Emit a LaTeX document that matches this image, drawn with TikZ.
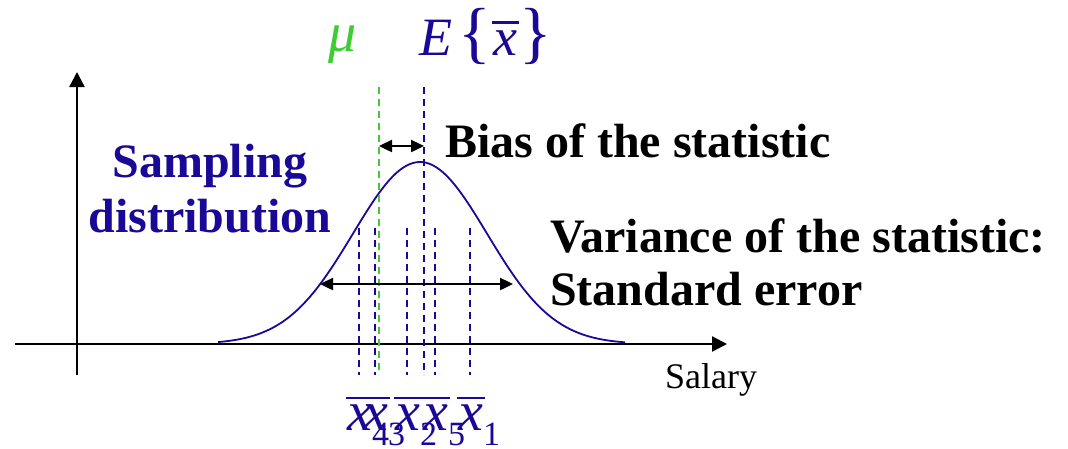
\documentclass[tikz,border=0pt]{standalone}
\usepackage{fontspec}
\setmainfont{Liberation Serif}
\usetikzlibrary{arrows.meta,positioning,calc}
\definecolor{sb}{RGB}{26,8,150}
\definecolor{sg}{RGB}{60,205,50}
\tikzset{axis/.style={line width=2.4pt,-{Triangle[length=15pt,width=15pt]}},
 curve/.style={draw=sb,line width=1.8pt},
 dl/.style={line width=1.8pt,dash pattern=on 7pt off 5pt},
 dbl/.style={line width=2.4pt,{Triangle[length=13pt,width=12pt]}-{Triangle[length=13pt,width=12pt]}},
 lbl/.style={inner sep=0pt,anchor=base west,font=\bfseries\fontsize{48}{54}\selectfont},
 mth/.style={inner sep=0pt,anchor=base west,font=\itshape\fontsize{56}{60}\selectfont},
 every node/.style={inner sep=0pt}}
\newcommand{\xb}[1]{\vbox{\hrule height 2.8pt\kern #1\hbox{\kern1.5pt x\kern1.5pt}}}
\newcommand{\brc}[1]{{\upshape\fontsize{68}{68}\selectfont #1}}
\begin{document}
\begin{tikzpicture}[x=1pt,y=-1pt]
\useasboundingbox (0,0) rectangle (1068,448);
% axes
\coordinate (ybot) at (77,375);\coordinate (ytop) at (77,72);
\coordinate (xl) at (15,344);\coordinate (xr) at (727,344);
\draw[axis] (ybot)--(ytop);\draw[axis] (xl)--(xr);
\node[anchor=base west,font=\fontsize{36}{40}\selectfont] (sal) at (665,388) {Salary};
% sampling distribution
\draw[curve] plot[domain=218:625,samples=120] (\x,{344-182*exp(-0.5*((\x-420)/67)^2)});
\node[lbl,anchor=base,text=sb] (samp) at (210,177) {Sampling};
\node[lbl,anchor=base,text=sb] (distr) at (210,232) {distribution};
% mean and expectation
\coordinate (mut) at (379,87);\coordinate (mub) at (379,375);
\coordinate (et) at (424,87);\coordinate (eb) at (424,375);
\draw[dl,draw=sg] (mut)--(mub);\draw[dl,draw=sb] (et)--(eb);
\node[mth,text=sg] (mu) at (328,51) {μ};
\node[mth,text=sb,font=\itshape\fontsize{54}{60}\selectfont] (ex) at (419,55)
 {E\kern6pt\brc{\{}\kern1pt\xb{6pt}\kern1pt\brc{\}}};
% sample means
\foreach \i/\xx in {4/359,3/375,2/407,5/435,1/470}{
 \coordinate (t\i) at (\xx,228);\coordinate (b\i) at (\xx,375);
 \draw[dl,draw=sb] (t\i)--(b\i);
 \node[mth,text=sb] (x\i) at (\xx-13,430)
  {\xb{5pt}\kern-2pt\raisebox{-15pt}{\upshape\fontsize{34}{34}\selectfont\i}};
}
% bias and variance
\coordinate (bl) at (379,146);\coordinate (br) at (424,146);
\draw[dbl] (bl)--(br);
\node[lbl] (bias) at (445,157) {Bias of the statistic};
\coordinate (vl) at (320,284);\coordinate (vr) at (513,284);
\draw[dbl] (vl)--(vr);
\node[lbl] (var) at (550,252) {Variance of the statistic:};
\node[lbl] (se) at (550,305) {Standard error};
\end{tikzpicture}
\end{document}
